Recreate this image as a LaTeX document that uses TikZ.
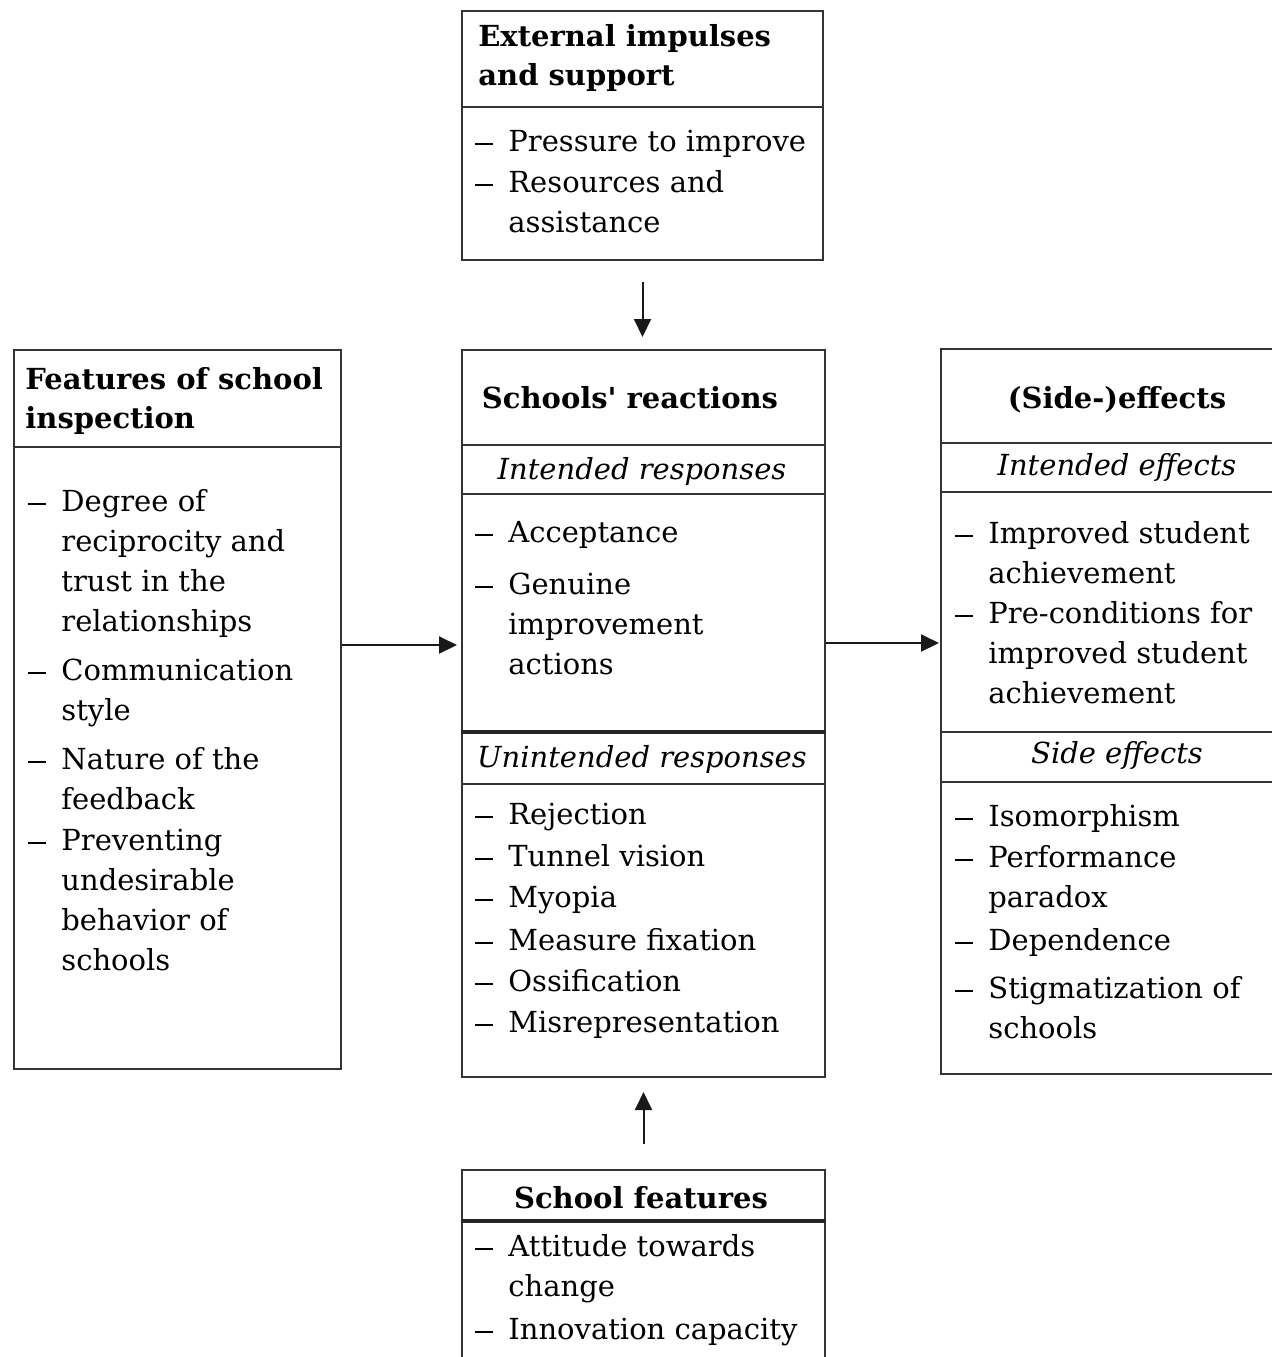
\documentclass[tikz,border=0pt]{standalone}
\usepackage{fontspec}
\setmainfont{DejaVu Serif}[Ligatures=TeXOff]
\usetikzlibrary{arrows.meta}
\newcommand{\itm}[1]{\makebox[16.5pt][l]{\rule[3.25pt]{9pt}{1pt}}\begin{tabular}[t]{@{}l@{}}#1\end{tabular}}
\newcommand{\ttlines}[1]{\begin{tabular}[t]{@{}l@{}}#1\end{tabular}}
\tikzset{
  box/.style={draw=black!80, line width=1pt, inner sep=0pt, anchor=north west},
  div/.style={draw=black!80, line width=1pt},
  thickdiv/.style={draw=black!85, line width=1.6pt},
  arr/.style={draw=black!90, line width=1pt, -{Triangle[length=9pt,width=8.5pt]}},
  txt/.style={inner sep=0pt, anchor=base west, align=left, font=\fontsize{14.5pt}{20pt}\selectfont},
  ttl/.style={inner sep=0pt, anchor=base west, align=left, font=\fontsize{14.5pt}{19.6pt}\selectfont\bfseries},
  ctl/.style={inner sep=0pt, anchor=base, font=\fontsize{14.5pt}{20pt}\selectfont\bfseries},
  sub/.style={inner sep=0pt, anchor=base, font=\fontsize{14.5pt}{20pt}\selectfont\itshape},
}
\begin{document}
\begin{tikzpicture}[x=0.5pt,y=-0.5pt]
\useasboundingbox (0,0) rectangle (1272,1357);
\clip (0,0) rectangle (1272,1357);
\fill[white] (0,0) rectangle (1272,1357);
% boxes
\node[box, minimum width=361*0.5pt, minimum height=249*0.5pt] (T) at (461,10) {};
\node[box, minimum width=363*0.5pt, minimum height=727*0.5pt] (C) at (461,349) {};
\node[box, minimum width=327*0.5pt, minimum height=719*0.5pt] (L) at (13,349) {};
\node[box, minimum width=420*0.5pt, minimum height=725*0.5pt] (R) at (940,348) {};
\node[box, minimum width=363*0.5pt, minimum height=260*0.5pt] (B) at (461,1169) {};
% dividers
\draw[div] (T.west |- 0,107) -- (T.east |- 0,107);
\draw[div] (C.west |- 0,445) -- (C.east |- 0,445);
\draw[div] (C.west |- 0,494) -- (C.east |- 0,494);
\draw[thickdiv] (C.west |- 0,732) -- (C.east |- 0,732);
\draw[div] (C.west |- 0,784) -- (C.east |- 0,784);
\draw[div] (L.west |- 0,447) -- (L.east |- 0,447);
\draw[div] (R.west |- 0,443) -- (R.east |- 0,443);
\draw[div] (R.west |- 0,492) -- (R.east |- 0,492);
\draw[div] (R.west |- 0,732) -- (R.east |- 0,732);
\draw[div] (R.west |- 0,782) -- (R.east |- 0,782);
\draw[thickdiv] (B.west |- 0,1221) -- (B.east |- 0,1221);
% arrows
\draw[arr, shorten <=10.5pt, shorten >=6pt] (T.south) -- (T.south |- C.north);
\draw[arr, shorten <=12.5pt, shorten >=7pt] (B.north) -- (B.north |- C.south);
\draw[arr, shorten >=2pt] (L.east |- 0,645) -- (C.west |- 0,645);
\draw[arr, shorten >=0.5pt] (C.east |- 0,643) -- (R.west |- 0,643);
% top box text
\node[ttl] (t0) at (478,46) {\ttlines{External impulses\\and support}};
\node[txt] (t1) at (475,151) {\itm{Pressure to improve}};
\node[txt] (t2) at (475,192) {\itm{Resources and\\assistance}};
% centre box text
\node[ctl] (c0) at (630,408) {Schools' reactions};
\node[sub] (c1) at (642,479) {Intended responses};
\node[txt] (c2) at (475,542) {\itm{Acceptance}};
\node[txt] (c3) at (475,594) {\itm{Genuine\\improvement\\actions}};
\node[sub] (c4) at (642,767) {Unintended responses};
\node[txt] (c5) at (475,824) {\itm{Rejection}};
\node[txt] (c6) at (475,866) {\itm{Tunnel vision}};
\node[txt] (c7) at (475,907) {\itm{Myopia}};
\node[txt] (c8) at (475,950) {\itm{Measure fixation}};
\node[txt] (c9) at (475,991) {\itm{Ossification}};
\node[txt] (c10) at (475,1032) {\itm{Misrepresentation}};
% left box text
\node[ttl] (l0) at (25,389) {\ttlines{Features of school\\inspection}};
\node[txt] (l1) at (28,511) {\itm{Degree of\\reciprocity and\\trust in the\\relationships}};
\node[txt] (l2) at (28,680) {\itm{Communication\\style}};
\node[txt] (l3) at (28,769) {\itm{Nature of the\\feedback}};
\node[txt] (l4) at (28,850) {\itm{Preventing\\undesirable\\behavior of\\schools}};
% right box text
\node[ctl] (r0) at (1117,408) {(Side-)effects};
\node[sub] (r1) at (1117,475) {Intended effects};
\node[txt] (r2) at (955,543) {\itm{Improved student\\achievement}};
\node[txt] (r3) at (955,623) {\itm{Pre-conditions for\\improved student\\achievement}};
\node[sub] (r4) at (1117,763) {Side effects};
\node[txt] (r5) at (955,826) {\itm{Isomorphism}};
\node[txt] (r6) at (955,867) {\itm{Performance\\paradox}};
\node[txt] (r7) at (955,950) {\itm{Dependence}};
\node[txt] (r8) at (955,998) {\itm{Stigmatization of\\schools}};
% bottom box text
\node[ctl] (b0) at (641,1208) {School features};
\node[txt] (b1) at (475,1256) {\itm{Attitude towards\\change}};
\node[txt] (b2) at (475,1339) {\itm{Innovation capacity}};
\end{tikzpicture}
\end{document}
